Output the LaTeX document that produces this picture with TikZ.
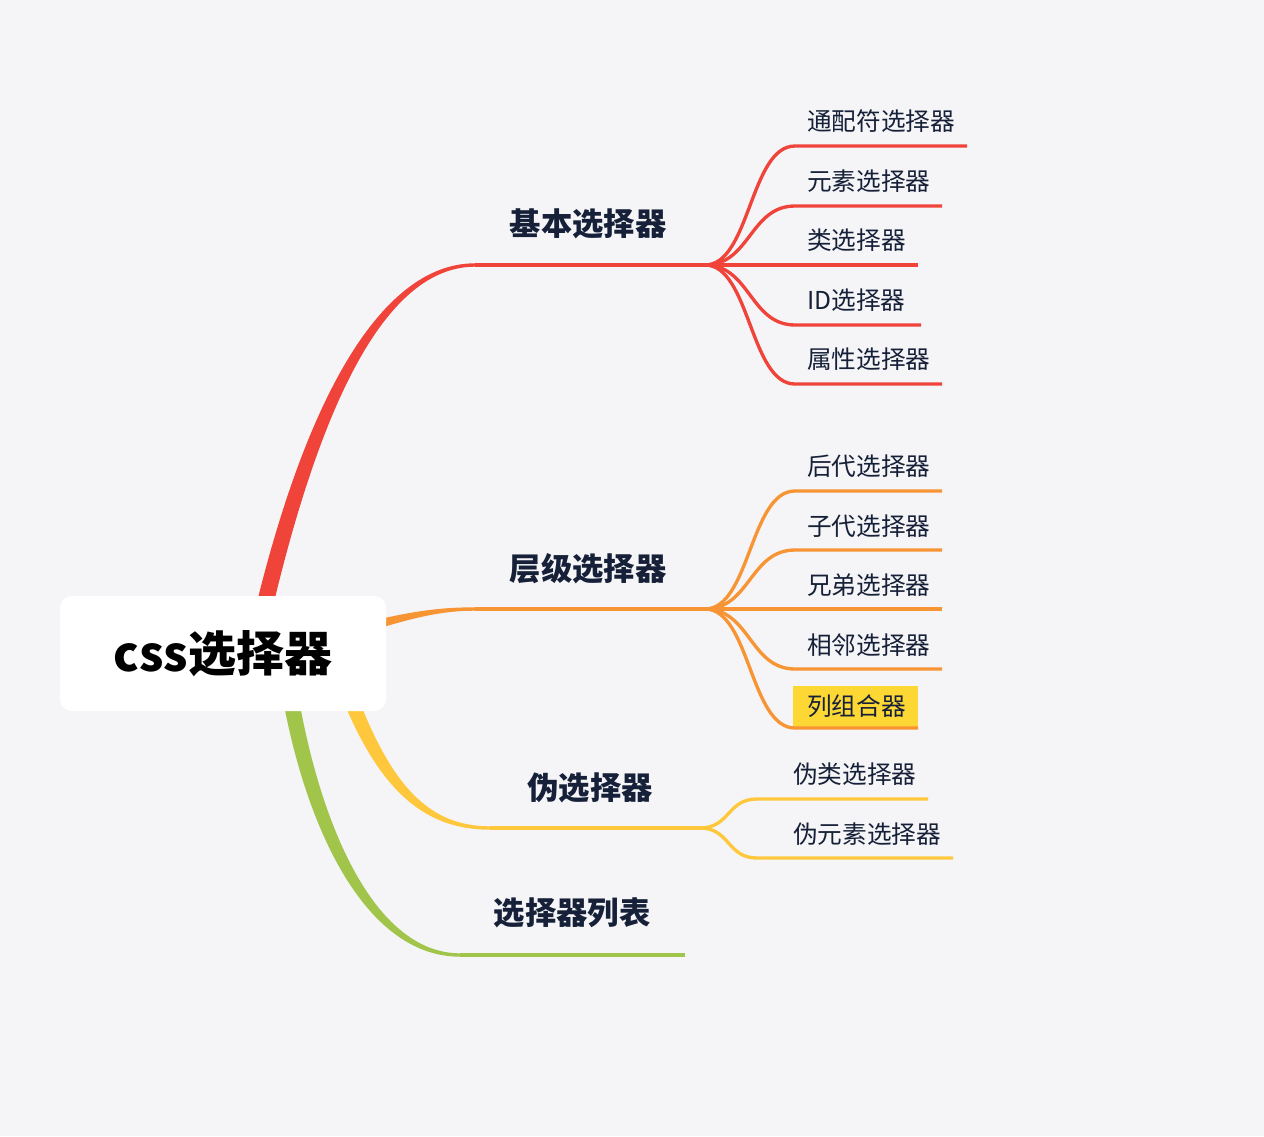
\documentclass[tikz,border=0pt]{standalone}
\usepackage{fontspec}
\setmainfont{Noto Sans CJK SC}
\usetikzlibrary{positioning, calc}

\definecolor{bgc}{HTML}{F5F5F7}
\definecolor{redb}{HTML}{F0433A}
\definecolor{orangeb}{HTML}{F79433}
\definecolor{yellowb}{HTML}{FFC83C}
\definecolor{greenb}{HTML}{A1C44A}
\definecolor{ink}{HTML}{162038}
\definecolor{hlcol}{HTML}{FDD835}

\begin{document}
\begin{tikzpicture}[x=0.75pt, y=-0.75pt,
  root/.style={fill=white, rounded corners=9pt, minimum width=244.5pt,
    minimum height=86.25pt, inner sep=0, font=\bfseries\fontsize{36}{40}\selectfont},
  topic/.style={inner sep=0, text=ink, font=\bfseries\fontsize{23.5}{26}\selectfont},
  leaf/.style={anchor=west, inner sep=0, text=ink, font=\fontsize{18.5}{20}\selectfont},
  twig/.style={line width=2.5pt}]
  % Canvas
  \fill[bgc] (0,0) rectangle (1264,1136);

  % Main branches (tapered)
  \fill[redb] (257,602) .. controls (312,380) and (388,263.3) .. (475,263.3)
    -- (475,266.7) .. controls (393,266.7) and (327,382) .. (274,602) -- cycle;
  \fill[orangeb] (380,619) .. controls (420,610) and (445,607.3) .. (475,607.3)
    -- (475,610.7) .. controls (445,610.7) and (420,616) .. (380,628) -- cycle;
  \fill[yellowb] (345,705) .. controls (383,795) and (428,829.7) .. (490,829.7)
    -- (490,826.3) .. controls (432,826.3) and (395,790) .. (361,705) -- cycle;
  \fill[greenb] (284,705) .. controls (310,840) and (370,956.7) .. (460,956.7)
    -- (460,953.3) .. controls (378,953.3) and (324,835) .. (300,705) -- cycle;

  % Root
  \node[root] (css) at (223,653.5) {css选择器};

  % Topic junctions
  \coordinate (basic0) at (475,265);
  \coordinate (basic) at (705,265);
  \coordinate (level0) at (475,609);
  \coordinate (level) at (705,609);
  \coordinate (pseudo0) at (490,828);
  \coordinate (pseudo) at (700,828);
  \coordinate (list0) at (460,955);
  \coordinate (list) at (685,955);

  \draw[twig, redb] (basic0) -- (basic);
  \draw[twig, orangeb] (level0) -- (level);
  \draw[twig, yellowb] (pseudo0) -- (pseudo);
  \draw[twig, greenb] (list0) -- (list);

  % Topic labels
  \node[topic] (tbasic) at (588,224) {基本选择器};
  \node[topic] (tlevel) at (588,569) {层级选择器};
  \node[topic] (tpseudo) at (590,788) {伪选择器};
  \node[topic] (tlist) at (572,913) {选择器列表};

  % Basic selectors
  \coordinate (b1) at (795,146); \coordinate (b1e) at (967,146);
  \coordinate (b2) at (795,206); \coordinate (b2e) at (942,206);
  \coordinate (b3e) at (918,265);
  \coordinate (b4) at (795,325); \coordinate (b4e) at (921,325);
  \coordinate (b5) at (795,384); \coordinate (b5e) at (942,384);
  \draw[twig, redb] (basic) .. controls +(45,0) and +(-45,0) .. (b1) -- (b1e);
  \draw[twig, redb] (basic) .. controls +(45,0) and +(-45,0) .. (b2) -- (b2e);
  \draw[twig, redb] (basic) -- (b3e);
  \draw[twig, redb] (basic) .. controls +(45,0) and +(-45,0) .. (b4) -- (b4e);
  \draw[twig, redb] (basic) .. controls +(45,0) and +(-45,0) .. (b5) -- (b5e);
  \node[leaf] (lb1) at (807,121) {通配符选择器};
  \node[leaf] (lb2) at (807,181) {元素选择器};
  \node[leaf] (lb3) at (807,240) {类选择器};
  \node[leaf] (lb4) at (807,300) {ID选择器};
  \node[leaf] (lb5) at (807,359) {属性选择器};

  % Level selectors
  \coordinate (c1) at (795,491); \coordinate (c1e) at (942,491);
  \coordinate (c2) at (795,550); \coordinate (c2e) at (942,550);
  \coordinate (c3e) at (942,609);
  \coordinate (c4) at (795,669); \coordinate (c4e) at (942,669);
  \coordinate (c5) at (795,728); \coordinate (c5e) at (918,728);
  \node[leaf, fill=hlcol, inner xsep=10.5pt, text width=72.75pt,
    minimum height=30.75pt] (lc5) at (793,706.5) {列组合器};
  \draw[twig, orangeb] (level) .. controls +(45,0) and +(-45,0) .. (c1) -- (c1e);
  \draw[twig, orangeb] (level) .. controls +(45,0) and +(-45,0) .. (c2) -- (c2e);
  \draw[twig, orangeb] (level) -- (c3e);
  \draw[twig, orangeb] (level) .. controls +(45,0) and +(-45,0) .. (c4) -- (c4e);
  \draw[twig, orangeb] (level) .. controls +(45,0) and +(-45,0) .. (c5) -- (c5e);
  \node[leaf] (lc1) at (807,466) {后代选择器};
  \node[leaf] (lc2) at (807,526) {子代选择器};
  \node[leaf] (lc3) at (807,585) {兄弟选择器};
  \node[leaf] (lc4) at (807,645) {相邻选择器};

  % Pseudo selectors
  \coordinate (d1) at (757,799); \coordinate (d1e) at (928,799);
  \coordinate (d2) at (757,858); \coordinate (d2e) at (953,858);
  \draw[twig, yellowb] (pseudo) .. controls +(30,0) and +(-30,0) .. (d1) -- (d1e);
  \draw[twig, yellowb] (pseudo) .. controls +(30,0) and +(-30,0) .. (d2) -- (d2e);
  \node[leaf] (ld1) at (793,774) {伪类选择器};
  \node[leaf] (ld2) at (793,834) {伪元素选择器};
\end{tikzpicture}
\end{document}
